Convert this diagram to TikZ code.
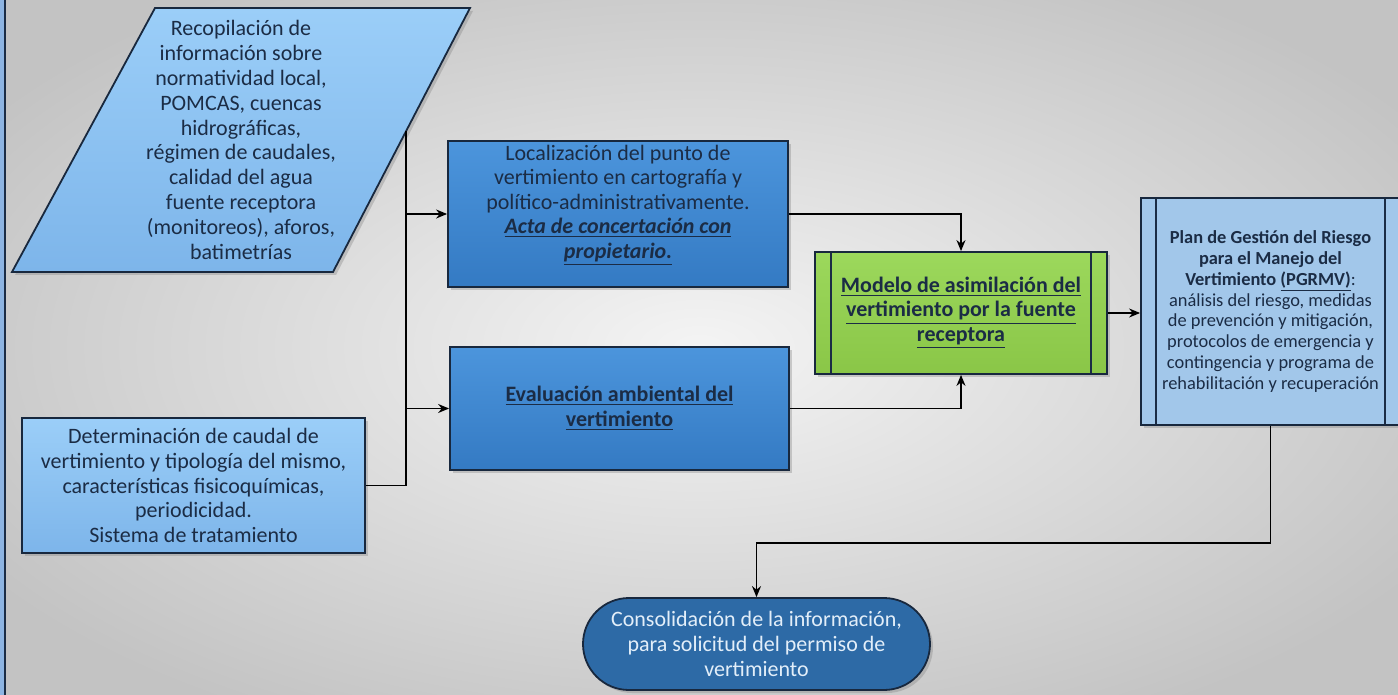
\documentclass[tikz,border=0pt]{standalone}
\usepackage{fontspec}
\setmainfont{Carlito}
\usetikzlibrary{shadows,arrows.meta}

\definecolor{bgcenter}{HTML}{F4F4F4}
\definecolor{bgedge}{HTML}{C3C3C3}
\definecolor{stripblue}{HTML}{8DB4E2}
\definecolor{skytop}{HTML}{9BCEF8}
\definecolor{skybot}{HTML}{7DB5EA}
\definecolor{oceantop}{HTML}{4C95DC}
\definecolor{oceanbot}{HTML}{347AC3}
\definecolor{leaftop}{HTML}{9CD85C}
\definecolor{leafbot}{HTML}{8AC647}
\definecolor{paleblue}{HTML}{A2C7EA}
\definecolor{deepblue}{HTML}{2D6AA6}
\definecolor{inkblue}{HTML}{1B2C45}
\definecolor{ovaltext}{HTML}{E2EEF9}

\tikzset{
  box/.style={draw=inkblue!90!black, line width=0.9pt, align=center, text=inkblue,
    inner sep=2pt, font=\fontsize{11}{12.3}\selectfont,
    drop shadow={opacity=0.35, shadow xshift=1.5pt, shadow yshift=-1.5pt}},
  skybox/.style={box, top color=skytop, bottom color=skybot},
  oceanbox/.style={box, top color=oceantop, bottom color=oceanbot},
  sidebars/.style={path picture={
      \draw[line width=0.8pt, inkblue]
        ([xshift=#1]path picture bounding box.north west) -- ([xshift=#1]path picture bounding box.south west)
        ([xshift=-#1]path picture bounding box.north east) -- ([xshift=-#1]path picture bounding box.south east);}},
  link/.style={line width=0.75pt, -{Stealth[length=5.5pt,width=4.5pt]}},
  wire/.style={line width=0.75pt},
}

\begin{document}
\begin{tikzpicture}[x=0.5pt, y=-0.5pt]
  \useasboundingbox (0,0) rectangle (1398,695);
  % background
  \shade[inner color=bgcenter, outer color=bgedge] (-150,-80) rectangle (1548,775);
  \fill[stripblue] (0,0) rectangle (5,695);
  \draw[line width=0.8pt, inkblue] (5,0) -- (5,695);

  % inputs
  \filldraw[draw=inkblue!90!black, line width=0.9pt, top color=skytop, bottom color=skybot,
    drop shadow={opacity=0.35, shadow xshift=1.5pt, shadow yshift=-1.5pt}]
    (12,272) -- (155,8) -- (470,8) -- (333,272) -- cycle;
  \node[align=center, text=inkblue, font=\fontsize{11}{12.4}\selectfont] (recop) at (241,140)
    {Recopilación de\\ información sobre\\ normatividad local,\\ POMCAS, cuencas\\ hidrográficas,\\
     régimen de caudales,\\ calidad del agua\\ fuente receptora\\ (monitoreos), aforos,\\ batimetrías};
  \coordinate (split) at (406,131);

  \node[skybox, minimum width=171.5pt, minimum height=67.5pt] (det) at (193.5,485.5)
    {Determinación de caudal de\\ vertimiento y tipología del mismo,\\ características fisicoquímicas,\\
     periodicidad.\\ Sistema de tratamiento};

  % studies
  \node[oceanbox, minimum width=170pt, minimum height=73pt] (loc) at (618,214)
    {Localización del punto de\\ vertimiento en cartografía y\\ político-administrativamente.\\
     \underline{\textbf{\textit{Acta de concertación con}}}\\ \underline{\textbf{\textit{propietario.}}}\\ \mbox{}};
  \node[oceanbox, minimum width=169.5pt, minimum height=61.5pt] (eval) at (619.5,408.5)
    {\underline{\textbf{Evaluación ambiental del}}\\ \underline{\textbf{vertimiento}}};

  % model
  \node[box, top color=leaftop, bottom color=leafbot, sidebars=8pt,
    minimum width=146pt, minimum height=61pt] (model) at (961,313)
    {\underline{\textbf{Modelo de asimilación del}}\\ \underline{\textbf{vertimiento por la fuente}}\\
     \underline{\textbf{receptora}}};

  % plan
  \node[box, fill=paleblue, sidebars=7.5pt, minimum width=129.5pt, minimum height=113.5pt,
    font=\fontsize{9.2}{10.4}\selectfont] (plan) at (1270.5,311.5)
    {\textbf{Plan de Gestión del Riesgo}\\ \textbf{para el Manejo del}\\
     \textbf{Vertimiento \underline{(PGRMV)}}:\\ análisis del riesgo, medidas\\ de prevención y mitigación,\\
     protocolos de emergencia y\\ contingencia y programa de\\ rehabilitación y recuperación};

  % result
  \node[box, fill=deepblue, text=ovaltext, rounded corners=23pt, minimum width=173.5pt,
    minimum height=46pt] (cons) at (756.5,644)
    {Consolidación de la información,\\ para solicitud del permiso de\\ vertimiento};

  % connectors
  \draw[wire] (split) |- (det.east);
  \draw[link] (split |- loc.west) -- (loc.west);
  \draw[link] (split |- eval.west) -- (eval.west);
  \draw[link] (loc.east) -| (model.north);
  \draw[link] (eval.east) -| (model.south);
  \draw[link] (model.east) -- (model.east -| plan.west);
  \draw[link] (plan.south) -- (plan.south |- 0,543) -| (cons.north);
\end{tikzpicture}
\end{document}
